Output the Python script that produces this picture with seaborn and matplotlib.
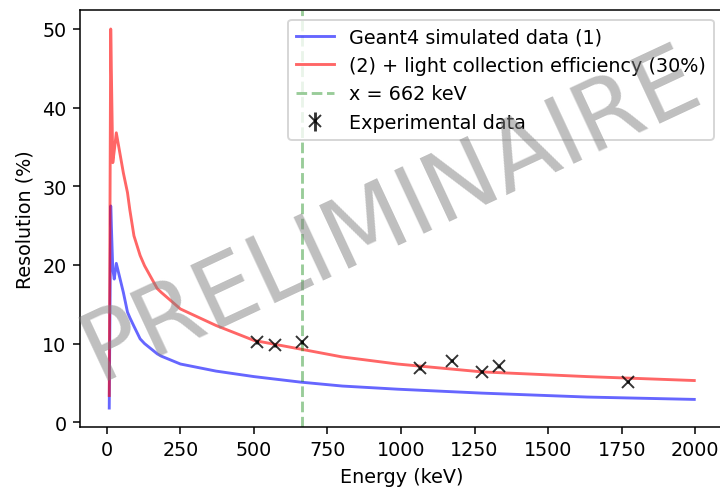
import matplotlib
matplotlib.use("Agg")
import matplotlib.pyplot as plt
import seaborn as sns

# Simulated curves
energy_sim = [8, 13, 20, 25, 32, 56, 70, 78, 92, 113, 128, 171, 185, 250,
              371, 500, 658, 800, 988, 1275, 1633, 1997]
res_geant4 = [1.8, 27.5, 19.5, 18.2, 20.2, 16.5, 14.0, 13.3, 12.2, 10.6, 10.0,
              8.7, 8.4, 7.4, 6.5, 5.8, 5.1, 4.6, 4.2, 3.7, 3.2, 2.9]
res_light = [3.4, 50.0, 33.0, 34.5, 36.8, 31.7, 29.2, 27.0, 23.7, 21.2, 19.9,
             17.0, 16.5, 14.4, 12.3, 10.4, 9.3, 8.3, 7.4, 6.4, 5.8, 5.3]

# Experimental data
energy_exp = [511, 570, 662, 1063, 1173, 1275, 1333, 1770]
res_exp = [10.2, 9.8, 10.2, 6.85, 7.8, 6.4, 7.1, 5.15]
err_exp = [0.2, 0.2, 0.2, 0.2, 0.2, 0.2, 0.2, 0.2]

cs_line = 662

plt.rcParams['font.family'] = ['DejaVu Sans']
fig = plt.figure(figsize=(720 / 138, 490 / 138), dpi=138)
ax = fig.add_axes([0.1111, 0.1265, 0.8938, 0.851])

sns.lineplot(x=energy_sim, y=res_geant4, color='blue', alpha=0.6, linewidth=1.5,
             label='Geant4 simulated data (1)', ax=ax)
sns.lineplot(x=energy_sim, y=res_light, color='red', alpha=0.6, linewidth=1.5,
             label='(2) + light collection efficiency (30%)', ax=ax)
ax.axvline(cs_line, color='green', linestyle='--', alpha=0.4, linewidth=1.5,
           label='x = 662 keV')
ax.errorbar(energy_exp, res_exp, yerr=err_exp, fmt='x', color='black',
            alpha=0.8, label='Experimental data')

ax.set_xticks([0, 250, 500, 750, 1000, 1250, 1500, 1750, 2000])
ax.set_yticks([0, 10, 20, 30, 40, 50])
ax.set_xlabel('Energy (keV)')
ax.set_ylabel('Resolution (%)')
ax.legend(loc='upper right')

fig.text(0.543, 0.56, 'PRELIMINAIRE', fontsize=50,
         color='gray', alpha=0.5, rotation=25, ha='center', va='center')

fig.savefig('out.png', dpi=138)
